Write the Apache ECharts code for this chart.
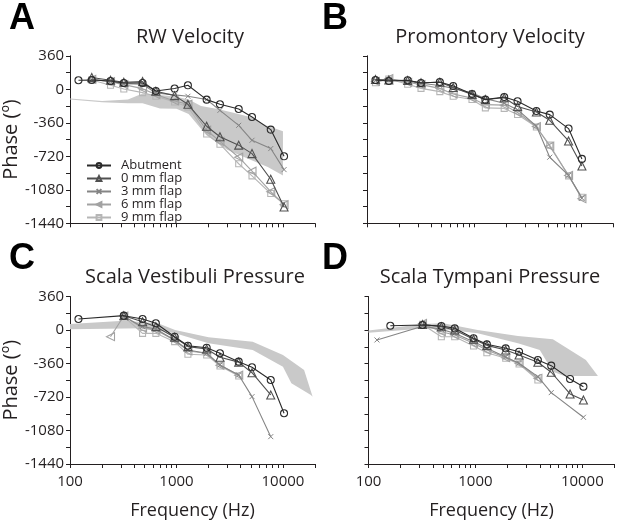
<!DOCTYPE html>
<html>
<head>
<meta charset="utf-8">
<script src="https://cdn.jsdelivr.net/npm/echarts@6/dist/echarts.min.js"></script>
<style>html,body{margin:0;padding:0;background:#fff;}#c{width:624px;height:527px;}</style>
</head>
<body>
<div id="c"></div>
<script>
// Frequencies (Hz) at which phase was measured
const freqs = [120,160,240,320,480,640,960,1280,1920,2560,3840,5120,7680,10240];
const seriesNames = ['Abutment','0 mm flap','3 mm flap','6 mm flap','9 mm flap'];
const panelTitles = ['RW Velocity','Promontory Velocity','Scala Vestibuli Pressure','Scala Tympani Pressure'];
const panelLetters = ['A','B','C','D'];
const xLabelValues = [100,1000,10000];
const xTickValues = [100,200,300,400,500,600,700,800,900,1000,2000,3000,4000,5000,6000,7000,8000,9000,10000,20000];

// Panel A: RW Velocity (phase, degrees)
const rwAbut = [97,100,89,68,68,-18,8,43,-111,-161,-212,-298,-433,-720];
const rw0mm  = [null,126,97,75,83,-21,-68,-161,-397,-510,-600,-691,-967,-1265];
const rw3mm  = [null,107,83,61,54,-40,-60,-75,-110,-226,-387,-548,-637,-863];
const rw6mm  = [null,107,82,50,7,-57,-125,-160,-440,-560,-730,-880,-1100,-1240];
const rw9mm  = [null,100,43,4,-36,-75,-136,-190,-480,-590,-800,-930,-1120,-1230];
const rwBandUpper = [[100,-100],[200,-125],[350,-110],[480,-45],[700,-60],[1000,-80],[1300,-110],[1700,-180],[2500,-215],[3500,-255],[5000,-300],[7000,-390],[10000,-450]];
const rwBandLower = [[100,-110],[200,-140],[350,-150],[480,-150],[700,-205],[1000,-210],[1300,-265],[1900,-490],[3000,-650],[4700,-745],[7200,-835],[10000,-925]];

// Panel B: Promontory Velocity
const prAbut = [100,89,97,68,78,35,-50,-111,-83,-128,-233,-272,-422,-748];
const pr0mm  = [105,100,95,70,75,20,-55,-110,-90,-185,-244,-333,-555,-824];
const pr3mm  = [95,100,85,65,40,10,-40,-100,-150,-220,-395,-730,-924,-1170];
const pr6mm  = [85,115,75,50,10,-50,-95,-165,-170,-250,-400,-612,-925,-1175];
const pr9mm  = [70,110,55,10,-25,-75,-110,-200,-205,-270,-405,-600,-930,-1160];

// Panel C: Scala Vestibuli Pressure
const svAbut = [118,null,null,154,118,72,-72,-169,-190,-250,-340,-401,-537,-895];
const sv0mm  = [null,null,null,154,89,36,-78,-179,-204,-293,-345,-459,-698,null];
const sv3mm  = [null,null,null,145,36,10,-107,-215,-250,-376,-483,-716,-1146,null];
const sv6mm  = [null,null,-72,150,20,0,-110,-225,-250,-380,-485,null,null,null];
const sv9mm  = [null,null,null,145,-36,-36,-125,-261,-268,-387,-494,null,null,null];
const svBandUpper = [[100,64],[320,100],[670,72],[970,0],[2000,-78],[5200,-125],[10000,-268],[15800,-430],[19000,-716]];
const svBandLower = [[100,8],[480,18],[970,-36],[2000,-143],[5200,-215],[10000,-394],[12000,-573],[18300,-698]];

// Panel D: Scala Tympani Pressure
const stAbut = [null,46,null,54,43,18,-89,-154,-197,-233,-322,-383,-526,-609];
const st0mm  = [null,null,null,60,35,0,-100,-165,-215,-268,-347,-454,-687,-752];
const st3mm  = [-107,null,null,40,8,-36,-125,-197,-290,-358,-501,-673,null,-938];
const st6mm  = [null,null,null,70,-18,-54,-143,-215,-297,-358,-519,null,null,null];
const st9mm  = [null,null,null,60,-72,-72,-172,-244,-304,-365,-537,null,null,null];
const stBandUpper = [[100,-5],[330,64],[500,72],[1050,0],[2500,-64],[5300,-100],[10800,-322],[14000,-494]];
const stBandLower = [[100,-30],[330,15],[500,8],[1050,-36],[2500,-143],[4000,-215],[5300,-448],[6800,-494],[14000,-494]];

const panelData = [
  [rwAbut, rw0mm, rw3mm, rw6mm, rw9mm],
  [prAbut, pr0mm, pr3mm, pr6mm, pr9mm],
  [svAbut, sv0mm, sv3mm, sv6mm, sv9mm],
  [stAbut, st0mm, st3mm, st6mm, st9mm]
];
const panelBands = [[rwBandUpper, rwBandLower], null, [svBandUpper, svBandLower], [stBandUpper, stBandLower]];

const FONT = '"Open Sans", "DejaVu Sans", sans-serif';
const styles = [
  {color:'#2b2b2b', symbol:'circle', size:7, rot:0, bw:1.1},
  {color:'#505050', symbol:'triangle', size:8, rot:0, bw:1.1},
  {color:'#858585', symbol:'path://M0,0L10,10M0,10L10,0', size:5, rot:0, bw:1},
  {color:'#a2a2a2', symbol:'triangle', size:8, rot:90, bw:1.1},
  {color:'#b6b6b6', symbol:'rect', size:6, rot:0, bw:1.1}
];

const grids = [
  {left:68, top:55.8, width:247, height:167.5},
  {left:367, top:55.8, width:246, height:167.5},
  {left:68, top:296.5, width:247, height:167.5},
  {left:368.5, top:296.5, width:246, height:167.5}
];
const titleCenters = [185, 485, 190, 485];

const xAxes = grids.map((g, i) => ({
  type:'log', logBase:10, gridIndex:i, min:100, max:20000,
  axisLine:{show:true, onZero:false, lineStyle:{color:'#231f20', width:1}},
  axisTick:{show:true, length:4, inside:false, customValues:xTickValues, lineStyle:{color:'#231f20'}},
  splitLine:{show:false}, minorTick:{show:false},
  axisLabel:{show: i >= 2, customValues:xLabelValues, color:'#231f20', fontSize:15, fontFamily:FONT, margin:10,
    formatter: v => { const r = Math.round(v); return xLabelValues.indexOf(r) >= 0 ? String(r) : ''; }},
  name: i >= 2 ? 'Frequency (Hz)' : '', nameLocation:'middle', nameGap:38,
  nameTextStyle:{color:'#231f20', fontSize:18, fontFamily:FONT}
}));

const yAxes = grids.map((g, i) => ({
  type:'value', gridIndex:i, min:-1440, max:360, interval:180,
  axisLine:{show:true, onZero:false, lineStyle:{color:'#231f20', width:1}},
  axisTick:{show:true, length:4, inside:false, lineStyle:{color:'#231f20'}},
  splitLine:{show:false},
  axisLabel:{show: i % 2 === 0, color:'#231f20', fontSize:15, fontFamily:FONT, margin:6,
    formatter: v => (Math.round(v) % 360 === 0 ? String(Math.round(v)) : '')},
  name: i % 2 === 0 ? 'Phase (º)' : '', nameLocation:'middle', nameRotate:90, nameGap:41,
  nameTextStyle:{color:'#231f20', fontSize:20, fontFamily:FONT}
}));

const series = [];
panelBands.forEach((band, p) => {
  if (!band) return;
  const upper = band[0], lower = band[1];
  series.push({
    type:'custom', xAxisIndex:p, yAxisIndex:p, silent:true, z:1,
    data:[[1000,0]],
    renderItem: (params, api) => {
      const pts = upper.map(d => api.coord(d)).concat(lower.slice().reverse().map(d => api.coord(d)));
      return {type:'polygon', shape:{points:pts}, style:{fill:'#c9c9c9', stroke:'none'}};
    }
  });
});
panelData.forEach((arrs, p) => {
  for (let s = 4; s >= 0; s--) {
    const st = styles[s];
    const data = freqs.map((f, k) => [f, arrs[s][k]]).filter(d => d[1] !== null);
    series.push({
      type:'line', name:seriesNames[s], xAxisIndex:p, yAxisIndex:p, data:data,
      symbol:st.symbol, symbolSize:st.size, symbolRotate:st.rot, showAllSymbol:true,
      connectNulls:true, z:10 + (4 - s),
      lineStyle:{color:st.color, width:1.1},
      itemStyle:{color:'rgba(255,255,255,0)', borderColor:st.color, borderWidth:st.bw},
      emphasis:{disabled:true}
    });
  }
});

const titles = grids.map((g, i) => ({
  text: panelTitles[i],
  left: titleCenters[i], top: i < 2 ? 22 : 262, textAlign:'center',
  textStyle:{color:'#231f20', fontSize:20, fontWeight:'normal', fontFamily:FONT}
}));

const letterPos = [[9,1],[322,1],[9,241],[322,241]];
const graphics = letterPos.map((pos, i) => ({
  type:'text', left:pos[0], top:pos[1], silent:true,
  style:{text:panelLetters[i], font:'bold 36px "Liberation Sans", Arial, sans-serif', fill:'#000'}
}));

const chart = echarts.init(document.getElementById('c'), null, {renderer:'canvas'});
chart.setOption({
  animation:false,
  backgroundColor:'#fff',
  title: titles,
  grid: grids,
  xAxis: xAxes,
  yAxis: yAxes,
  legend:{
    data: seriesNames, orient:'vertical', left:81, top:154,
    itemWidth:24, itemHeight:6, itemGap:0,
    textStyle:{color:'#231f20', fontSize:13, fontFamily:FONT, lineHeight:12.25, padding:[0,0,0,5]},
    selectedMode:false
  },
  graphic: graphics,
  series: series
});
</script>
</body>
</html>
